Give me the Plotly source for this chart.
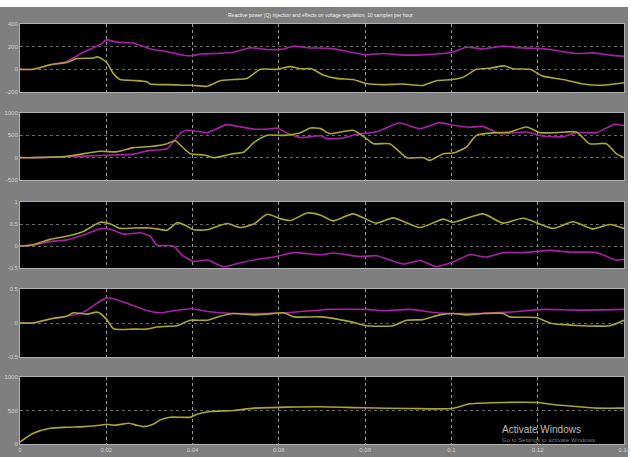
import plotly.graph_objects as go

# ---- data -------------------------------------------------------------
# Panel 1: reactive power
p1_mag_t = [0, 0.0031, 0.007, 0.0108, 0.0147, 0.0186, 0.0201, 0.0224, 0.0263, 0.0302, 0.0341, 0.0379,
            0.0399, 0.0418, 0.0457, 0.0495, 0.0534, 0.0573, 0.0611, 0.0635, 0.0666, 0.0718, 0.0749,
            0.0799, 0.0842, 0.0873, 0.0904, 0.0942, 0.0981, 0.1002, 0.1035, 0.1073, 0.112, 0.1158,
            0.1201, 0.1236, 0.129, 0.1328, 0.1367, 0.14]
p1_mag_v = [0, 0, 40, 70, 150, 220, 260, 240, 230, 180, 155, 125,
            120, 135, 140, 150, 190, 175, 180, 205, 190, 185, 165,
            130, 140, 130, 125, 130, 140, 150, 195, 180, 205, 190,
            185, 170, 140, 145, 125, 115]
p1_yel_t = [0, 0.0031, 0.007, 0.0108, 0.0131, 0.017, 0.0178, 0.0186, 0.0201, 0.0217, 0.0232, 0.0263,
            0.0294, 0.0302, 0.0341, 0.0379, 0.0399, 0.0434, 0.0464, 0.0495, 0.0526, 0.0557, 0.0596,
            0.0627, 0.065, 0.0675, 0.0703, 0.0734, 0.0772, 0.0803, 0.0842, 0.0888, 0.0934, 0.0965,
            0.1002, 0.1027, 0.1058, 0.1089, 0.1124, 0.1143, 0.1182, 0.1212, 0.1259, 0.1305, 0.1351, 0.14]
p1_yel_v = [0, 0, 40, 60, 95, 100, 110, 100, 60, -40, -90, -98,
            -110, -130, -135, -140, -140, -150, -100, -90, -80, 0, 0,
            24, 5, 5, -50, -80, -90, -125, -135, -130, -142, -100,
            -90, -70, 0, 10, 30, 5, 0, -60, -90, -130, -140, -118]

# Panel 2
p2_mag_t = [0, 0.0031, 0.0108, 0.0186, 0.0217, 0.0263, 0.0302, 0.0341, 0.0356, 0.0375, 0.0387, 0.0418,
            0.0434, 0.048, 0.0511, 0.0542, 0.0573, 0.0596, 0.0619, 0.065, 0.0697, 0.0711, 0.0749,
            0.078, 0.0826, 0.088, 0.0927, 0.0973, 0.1004, 0.1043, 0.1073, 0.1112, 0.1174, 0.1212,
            0.1259, 0.129, 0.1336, 0.1378, 0.14]
p2_mag_v = [0, 0, 20, 50, 60, 80, 164, 200, 365, 570, 612, 580,
            560, 740, 690, 640, 640, 660, 552, 450, 490, 425, 440,
            520, 580, 776, 650, 784, 724, 680, 700, 537, 575, 485,
            470, 560, 560, 746, 720]
p2_yel_t = [0, 0.0031, 0.0108, 0.0186, 0.0224, 0.0263, 0.0302, 0.0341, 0.036, 0.0375, 0.0395, 0.0426,
            0.0449, 0.048, 0.0495, 0.0518, 0.0542, 0.0573, 0.0611, 0.065, 0.0673, 0.0697, 0.0718,
            0.0772, 0.0803, 0.0819, 0.0857, 0.088, 0.0896, 0.0935, 0.095, 0.0981, 0.1004, 0.1035,
            0.1058, 0.1104, 0.1135, 0.1174, 0.1205, 0.1243, 0.129, 0.132, 0.1359, 0.1382, 0.14]
p2_yel_v = [0, 0, 30, 142, 130, 224, 250, 313, 380, 250, 90, 60,
            0, 60, 90, 120, 335, 500, 500, 560, 664, 650, 537,
            612, 425, 313, 313, 127, 0, 0, -60, 90, 105, 239,
            500, 560, 575, 686, 560, 560, 575, 313, 313, 90, 0]

# Panel 3
p3_yel_t = [0, 0.0031, 0.007, 0.0108, 0.0147, 0.0186, 0.021, 0.0232, 0.0263, 0.0302, 0.0341, 0.0364,
            0.0387, 0.0402, 0.0434, 0.048, 0.0511, 0.0542, 0.0573, 0.0604, 0.0627, 0.0666, 0.0697,
            0.0726, 0.0772, 0.0826, 0.0865, 0.0927, 0.0981, 0.1004, 0.1073, 0.112, 0.1166, 0.1236,
            0.1282, 0.1328, 0.1367, 0.14]
p3_yel_v = [0, 0.03, 0.15, 0.22, 0.33, 0.54, 0.5, 0.4, 0.41, 0.41, 0.36, 0.53,
            0.45, 0.37, 0.37, 0.51, 0.42, 0.5, 0.72, 0.62, 0.58, 0.75, 0.70,
            0.57, 0.73, 0.52, 0.64, 0.42, 0.61, 0.54, 0.73, 0.52, 0.63, 0.40,
            0.55, 0.39, 0.49, 0.4]
p3_mag_t = [0, 0.0031, 0.007, 0.0108, 0.0147, 0.0186, 0.021, 0.024, 0.0279, 0.0302, 0.0317, 0.0356,
            0.0375, 0.0402, 0.0434, 0.0472, 0.0511, 0.0557, 0.0588, 0.0635, 0.0697, 0.0726, 0.0788,
            0.0826, 0.0888, 0.0927, 0.0965, 0.1004, 0.1043, 0.1081, 0.112, 0.1166, 0.1228, 0.1274,
            0.1336, 0.1382, 0.14]
p3_mag_v = [0, 0.02, 0.1, 0.14, 0.25, 0.39, 0.38, 0.27, 0.3, 0.22, 0.02, 0.0,
            -0.2, -0.35, -0.32, -0.47, -0.38, -0.29, -0.25, -0.15, -0.2, -0.16, -0.24,
            -0.22, -0.41, -0.33, -0.47, -0.36, -0.2, -0.25, -0.15, -0.15, -0.1, -0.14,
            -0.15, -0.32, -0.3]

# Panel 4
p4_mag_t = [0, 0.0031, 0.007, 0.0108, 0.0147, 0.0201, 0.0248, 0.0286, 0.0325, 0.0356, 0.0399, 0.0434,
            0.0495, 0.0557, 0.0619, 0.065, 0.0697, 0.0711, 0.0804, 0.0842, 0.0904, 0.0966, 0.1004,
            0.1058, 0.1135, 0.1212, 0.129, 0.14]
p4_mag_v = [0, 0, 0.06, 0.1, 0.16, 0.37, 0.29, 0.2, 0.15, 0.18, 0.21, 0.17,
            0.14, 0.14, 0.15, 0.17, 0.19, 0.2, 0.2, 0.18, 0.2, 0.15, 0.14,
            0.14, 0.16, 0.2, 0.19, 0.2]
p4_yel_t = [0, 0.0031, 0.007, 0.0108, 0.0124, 0.0155, 0.0178, 0.0186, 0.0201, 0.0217, 0.0263, 0.0294,
            0.0317, 0.0341, 0.0364, 0.0395, 0.0434, 0.0464, 0.0495, 0.0542, 0.0573, 0.0611, 0.0635,
            0.0697, 0.0765, 0.0803, 0.0865, 0.0896, 0.0934, 0.0973, 0.1004, 0.1035, 0.1073, 0.112,
            0.1135, 0.1197, 0.1228, 0.1305, 0.1367, 0.14]
p4_yel_v = [0, 0, 0.06, 0.1, 0.15, 0.13, 0.16, 0.14, 0.05, -0.085, -0.09, -0.09,
            -0.06, -0.05, -0.04, 0.04, 0.04, 0.1, 0.14, 0.12, 0.13, 0.15, 0.09,
            0.09, 0.02, -0.04, -0.04, 0.04, 0.05, 0.12, 0.14, 0.12, 0.14, 0.14,
            0.09, 0.08, 0.0, -0.04, -0.04, 0.04]

# Panel 5
p5_t = [0, 0.0031, 0.007, 0.0108, 0.0147, 0.0186, 0.0201, 0.0217, 0.0232, 0.0252, 0.0271, 0.0286,
        0.031, 0.0325, 0.0348, 0.0395, 0.041, 0.0441, 0.0495, 0.0542, 0.0619, 0.0697, 0.0796,
        0.0904, 0.1002, 0.1043, 0.1201, 0.124, 0.129, 0.1336, 0.14]
p5_v = [30, 160, 235, 250, 260, 280, 295, 280, 290, 310, 280, 260,
        300, 360, 400, 400, 445, 485, 500, 535, 550, 555, 540,
        530, 530, 600, 620, 585, 560, 535, 535]

# axis ticks per panel
y_ranges = [(-200, 400), (-500, 1000), (-0.5, 1), (-0.5, 0.5), (0, 1000)]
y_ticks = [[-200, 0, 200, 400], [-500, 0, 500, 1000], [-0.5, 0, 0.5, 1], [-0.5, 0, 0.5], [0, 500, 1000]]
y_tick_text = [["-200", "0", "200", "400"], ["-500", "0", "500", "1000"],
               ["-0.5", "0", "0.5", "1"], ["-0.5", "0", "0.5"], ["0", "500", "1000"]]
x_ticks = [0, 0.02, 0.04, 0.06, 0.08, 0.1, 0.12, 0.14]
x_tick_text = ["0", "0.02", "0.04", "0.06", "0.08", "0.1", "0.12", "0.14"]

title_text = "Reactive power (Q) injection and effects on voltage regulation, 10 samples per hour."

# ---- figure -----------------------------------------------------------
W, H = 631, 457
panel_px = [(24, 92), (113, 180), (202, 268), (289, 357), (377, 444)]
x_px = (20, 624)

MAG = "#a81fa8"
YEL = "#a8a82a"

series = [
    [(p1_mag_t, p1_mag_v, MAG), (p1_yel_t, p1_yel_v, YEL)],
    [(p2_mag_t, p2_mag_v, MAG), (p2_yel_t, p2_yel_v, YEL)],
    [(p3_mag_t, p3_mag_v, MAG), (p3_yel_t, p3_yel_v, YEL)],
    [(p4_mag_t, p4_mag_v, MAG), (p4_yel_t, p4_yel_v, YEL)],
    [(p5_t, p5_v, YEL)],
]

fig = go.Figure()
layout = dict(
    width=W, height=H, margin=dict(l=0, r=0, t=0, b=0),
    paper_bgcolor="#7f7f7f", plot_bgcolor="#000000",
    showlegend=False, template="none",
)

FONT = "Liberation Sans Narrow, Liberation Sans, Arial"
tick_font = dict(family=FONT, size=6, color="#cfcfcf")

for i, (top, bot) in enumerate(panel_px):
    n = i + 1
    xa = "x" if n == 1 else f"x{n}"
    ya = "y" if n == 1 else f"y{n}"
    for t, v, c in series[i]:
        fig.add_trace(go.Scatter(x=t, y=v, mode="lines", xaxis=xa, yaxis=ya,
                                 line=dict(color=c, width=1.6, shape="spline", smoothing=0.6),
                                 hoverinfo="skip"))
    layout[f"xaxis{'' if n == 1 else n}"] = dict(
        domain=[x_px[0] / W, x_px[1] / W], range=[0, 0.14], anchor=ya,
        tickvals=x_ticks, ticktext=x_tick_text, showticklabels=(n == 5),
        tickfont=tick_font, ticks="", showgrid=True, gridcolor="#9a9a9a", griddash="dot",
        gridwidth=1, zeroline=False, showline=True, mirror=True, linecolor="#b0b0b0",
        linewidth=1, automargin=False, fixedrange=True,
    )
    lo, hi = y_ranges[i]
    layout[f"yaxis{'' if n == 1 else n}"] = dict(
        domain=[1 - bot / H, 1 - top / H], range=[lo, hi], anchor=xa,
        tickvals=y_ticks[i], ticktext=y_tick_text[i], tickfont=tick_font, ticks="",
        showgrid=True, gridcolor="#666666", griddash="dot", gridwidth=1, zeroline=False,
        showline=True, mirror=True, linecolor="#b0b0b0", linewidth=1,
        automargin=False, fixedrange=True,
    )

layout["shapes"] = [
    dict(type="rect", xref="paper", yref="paper", x0=0, x1=1, y0=1 - 7 / H, y1=1,
         fillcolor="#ffffff", line=dict(width=0), layer="below"),
    dict(type="rect", xref="paper", yref="paper", x0=628 / W, x1=1, y0=0, y1=1,
         fillcolor="#ffffff", line=dict(width=0), layer="below"),
]
layout["annotations"] = [
    dict(text=title_text, xref="paper", yref="paper", x=321 / W, y=1 - 15 / H,
         showarrow=False, xanchor="center", yanchor="middle",
         font=dict(family=FONT, size=5, color="#f2f2f2")),
    dict(text="Activate Windows", xref="paper", yref="paper", x=500 / W, y=1 - 429 / H,
         showarrow=False, xanchor="left", yanchor="middle",
         font=dict(family=FONT, size=10, color="#bdbdbd")),
    dict(text="Go to Settings to activate Windows.", xref="paper", yref="paper", x=500 / W, y=1 - 440 / H,
         showarrow=False, xanchor="left", yanchor="middle",
         font=dict(family=FONT, size=6, color="#7a7a7a")),
]

fig.update_layout(**layout)
fig.write_html("out.html", config={"displayModeBar": False})
